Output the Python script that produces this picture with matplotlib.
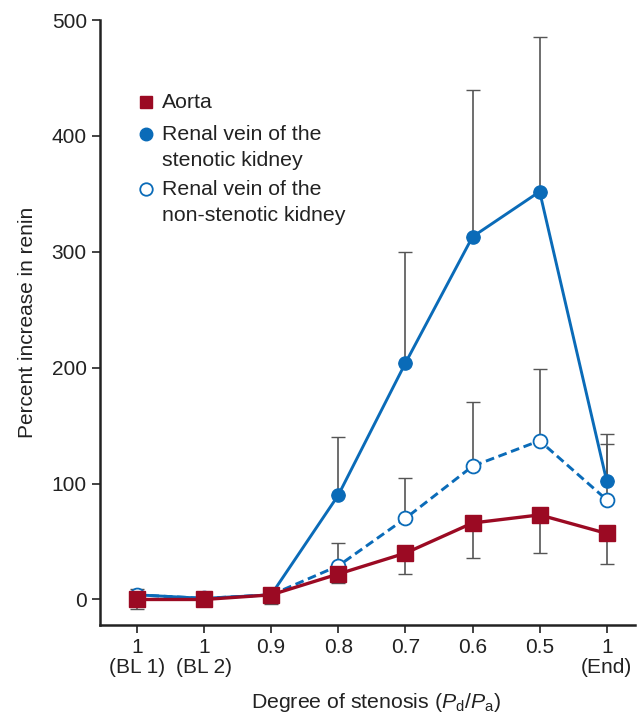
import matplotlib
matplotlib.use("Agg")
import matplotlib.pyplot as plt

plt.rcParams['font.family'] = ['Liberation Sans', 'DejaVu Sans']
plt.rcParams['mathtext.fontset'] = 'custom'
plt.rcParams['mathtext.rm'] = 'Liberation Sans'
plt.rcParams['mathtext.it'] = 'Liberation Sans:italic'

# data
tick_labels = ["1\n(BL 1)", "1\n(BL 2)", "0.9", "0.8", "0.7", "0.6", "0.5", "1\n(End)"]
x = list(range(len(tick_labels)))

aorta = [0, 0, 4, 22, 40, 66, 73, 57]
aorta_err_low = [8, 0, 8, 8, 18, 30, 33, 26]

stenotic = [4, 1, 4, 90, 204, 313, 352, 102]
stenotic_err_up = [0, 0, 0, 50, 96, 127, 133, 41]

non_stenotic = [4, 1, 4, 29, 70, 115, 137, 86]
non_stenotic_err_up = [5, 0, 0, 20, 35, 55, 62, 48]

series_names = [["Aorta"],
                ["Renal vein of the", "stenotic kidney"],
                ["Renal vein of the", "non-stenotic kidney"]]

red = "#9b0a23"
blue = "#0a6bb8"
err_col = "#555555"
txt = "#222222"
fs = 15

fig = plt.figure(figsize=(6.43, 7.15), dpi=100)
ax = fig.add_axes([0.1555, 0.1259, 0.832, 0.846])

zeros = [0] * len(x)

# error bars (one-sided)
ax.errorbar(x, stenotic, yerr=[zeros, stenotic_err_up], fmt='none',
            ecolor=err_col, elinewidth=1.2, capsize=5, zorder=1)
ax.errorbar(x, non_stenotic, yerr=[zeros, non_stenotic_err_up], fmt='none',
            ecolor=err_col, elinewidth=1.2, capsize=5, zorder=1)
ax.errorbar(x, aorta, yerr=[aorta_err_low, zeros], fmt='none',
            ecolor=err_col, elinewidth=1.2, capsize=5, zorder=1)

ax.plot(x, stenotic, color=blue, lw=2.1, marker='o', ms=9.5, zorder=2)
ax.plot(x, non_stenotic, color=blue, lw=2.1, ls=(0, (3, 1.6)), marker='o', ms=10,
        mfc='white', mec=blue, mew=1.3, zorder=3)
ax.plot(x, aorta, color=red, lw=2.4, marker='s', ms=11, zorder=4)

ax.set_xlim(-0.55, 7.42)
ax.set_ylim(-22, 500)
ax.set_yticks([0, 100, 200, 300, 400, 500])
ax.set_xticks(x)
ax.set_xticklabels(tick_labels, linespacing=1.05)

for s in ['top', 'right']:
    ax.spines[s].set_visible(False)
for s in ['left', 'bottom']:
    ax.spines[s].set_linewidth(1.8)
    ax.spines[s].set_color(txt)
ax.tick_params(axis='both', direction='out', length=6, width=1.2,
               labelsize=fs, colors=txt)
ax.tick_params(axis='x', pad=3.5)

ax.set_ylabel("Percent increase in renin", fontsize=15, color=txt)
ax.yaxis.set_label_coords(-0.118, 0.5)
ax.set_xlabel(r"Degree of stenosis ($P_{\mathrm{d}}/P_{\mathrm{a}}$)",
              fontsize=15.3, color=txt, va='baseline')
ax.xaxis.set_label_coords(0.515, -0.137)

# legend drawn by hand: marker next to first line of each label
leg_styles = [dict(marker='s', ms=9, color=red),
              dict(marker='o', ms=9, color=blue),
              dict(marker='o', ms=9, mfc='white', mec=blue, mew=1.3)]
row_y = [0.8645, 0.8116, 0.7207]
line_step = 0.043
for style, lines, y0 in zip(leg_styles, series_names, row_y):
    ax.plot([0.086], [y0], transform=ax.transAxes, ls='none',
            clip_on=False, **style)
    for k, line in enumerate(lines):
        ax.text(0.116, y0 - k * line_step, line, transform=ax.transAxes,
                ha='left', va='center', fontsize=15.3, color=txt)

fig.savefig("out.png", dpi=100)
